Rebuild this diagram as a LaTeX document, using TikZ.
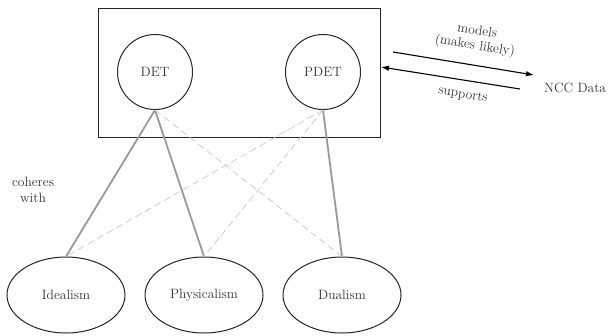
\documentclass[tikz,border=0pt]{standalone}
\usetikzlibrary{arrows.meta,shapes.geometric}
\begin{document}
\begin{tikzpicture}[x=1pt,y=-1pt,
  txt/.style={font=\fontsize{13.5}{16}\selectfont, text=black!80, inner sep=0pt},
  theory/.style={circle, draw=black!85, line width=1pt, minimum size=75pt, txt},
  view/.style={ellipse, draw=black!85, line width=1pt, minimum width=118pt, minimum height=76pt, inner sep=0pt, font=\fontsize{13.5}{16}\selectfont, text=black!80},
  strong/.style={draw=black!40, line width=1.8pt},
  weak/.style={draw=black!20, line width=0.8pt, dash pattern=on 7pt off 4pt},
  rel/.style={draw=black, line width=1.1pt, -{Latex[length=8pt,width=5.5pt]}}
]
\useasboundingbox (0,0) rectangle (613,335);
\node[draw=black!85, line width=1pt, minimum width=282pt, minimum height=129pt, inner sep=0pt] (box) at (239,72.5) {};
\node[theory] (det) at (155,72) {DET};
\node[theory] (pdet) at (323,72) {PDET};
\node[view] (ide) at (66,295) {Idealism};
\node[view] (phy) at (204,295) {Physicalism};
\node[view] (dua) at (342,295) {Dualism};
\node[txt, align=center] (coh) at (33,190) {coheres\\with};
\node[txt, anchor=west] (ncc) at (544,88) {NCC Data};

\draw[strong] (det.south) -- (ide.north);
\draw[strong] (det.south) -- (phy.north);
\draw[strong] (pdet.south) -- (dua.north);
\draw[weak] (det.south) -- (dua.north);
\draw[weak] (pdet.south) -- (ide.north);
\draw[weak] (pdet.south) -- (phy.north);

\coordinate (m1) at (393,52);
\coordinate (m2) at (534,75);
\coordinate (s1) at (520,89);
\coordinate (s2) at (381,67);
\draw[rel] (m1) -- (m2);
\draw[rel] (s1) -- (s2);
\node[txt, rotate=-9, align=center, font=\fontsize{13.5}{15}\selectfont] (mod) at (476,39) {models\\(makes likely)};
\node[txt, rotate=-9] (sup) at (463,95) {supports};
\end{tikzpicture}
\end{document}
